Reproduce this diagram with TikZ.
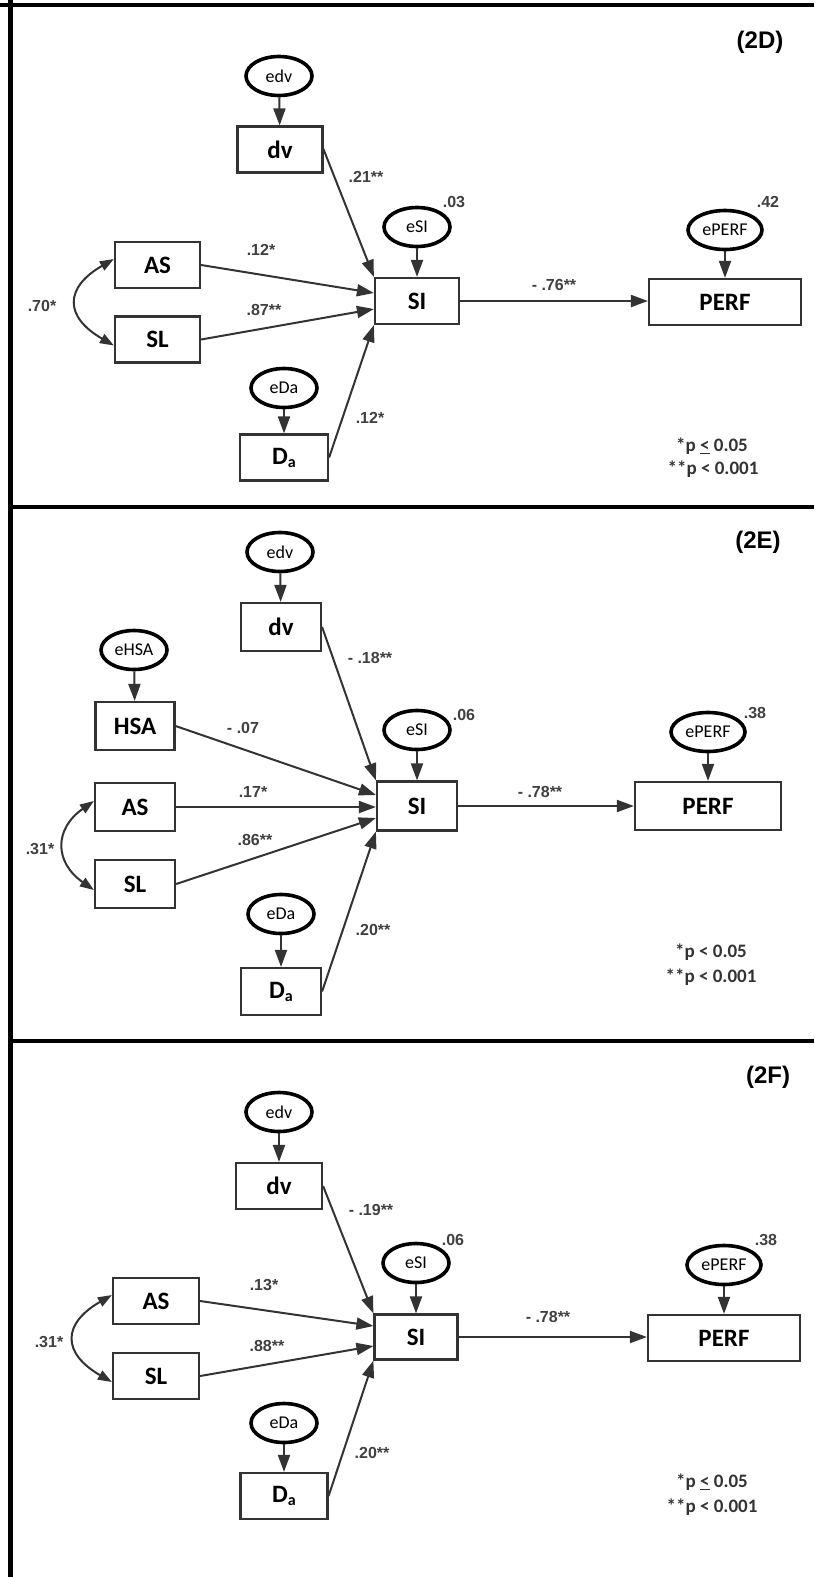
\documentclass[tikz,border=0pt]{standalone}
\usepackage{fontspec}
\setmainfont{Carlito}
\newfontfamily\arialf{Liberation Sans}
\usetikzlibrary{arrows.meta,shapes.geometric}
\begin{document}
\begin{tikzpicture}[x=1pt,y=-1pt,
  box/.style={draw=black!80, line width=2.2pt, fill=white, minimum width=85pt, minimum height=46pt, inner sep=0pt, font=\fontsize{25}{25}\selectfont\bfseries},
  err/.style={draw=black, line width=3.6pt, ellipse, fill=white, minimum width=66pt, minimum height=39pt, inner sep=0pt, font=\fontsize{18}{18}\selectfont},
  arr/.style={draw=black!80, line width=2pt, -{Triangle[length=17pt,width=12pt]}},
  dbl/.style={draw=black!80, line width=2pt, {Triangle[length=14pt,width=10pt]}-{Triangle[length=14pt,width=10pt]}},
  coef/.style={font=\arialf\bfseries\fontsize{16}{16}\selectfont, text=black!75, inner sep=0pt},
  pv/.style={font=\bfseries\fontsize{19}{19}\selectfont, text=black!80, inner sep=0pt},
  ttl/.style={font=\arialf\bfseries\fontsize{24}{24}\selectfont, inner sep=0pt},
  frame/.style={draw=black, line width=5pt}
]
\useasboundingbox (0,0) rectangle (814,1577);
\fill[white] (0,0) rectangle (814,1577);
% frame
\coordinate (fTL) at (0,5);
\coordinate (fTR) at (814,5);
\coordinate (fLT) at (10,0);
\coordinate (fLB) at (10,1577);
\coordinate (fD1L) at (10,507);
\coordinate (fD1R) at (814,507);
\coordinate (fD2L) at (10,1041);
\coordinate (fD2R) at (814,1041);
\draw[frame, line width=4pt] (fTL) -- (fTR);
\draw[frame] (fLT) -- (fLB);
\draw[frame, line width=4pt] (fD1L) -- (fD1R);
\draw[frame, line width=4pt] (fD2L) -- (fD2R);

% ================= Panel 2D =================
\node[ttl] (Dttl) at (760,42) {(2D)};
\node[err] (Dedv) at (279,76) {edv};
\node[box] (Ddv) at (280,149.5) {dv};
\node[err] (DeSI) at (417,227) {eSI};
\node[box, minimum width=84pt] (DSI) at (417,301) {SI};
\node[err, minimum width=74pt] (DePERF) at (725,230) {ePERF};
\node[box, minimum width=152pt] (DPERF) at (725,302) {PERF};
\node[box] (DAS) at (157.5,265) {AS};
\node[box] (DSL) at (157.5,339.5) {SL};
\node[err] (DeDa) at (284,388) {eDa};
\node[box, minimum width=88pt] (DDa) at (284,457.5) {D\raisebox{-3pt}{\fontsize{16}{16}\selectfont a}};

\draw[arr] (Dedv) -- (Ddv);
\draw[arr] (DeSI) -- (DSI);
\draw[arr] (DePERF) -- (DPERF);
\draw[arr] (DeDa) -- (DDa);
\draw[arr] (Ddv.east) -- (DSI.north west);
\draw[arr] (DAS.east) -- ([yshift=8pt]DSI.west);
\draw[arr] (DSL.east) -- ([yshift=-8pt]DSI.west);
\draw[arr] (DDa.east) -- (DSI.south west);
\draw[arr] (DSI.east) -- (DSI.east -| DPERF.west);
\draw[dbl] ([yshift=6pt]DAS.west) to[out=210,in=150,looseness=1.7] ([yshift=-6pt]DSL.west);

\node[coef] (Dc1) at (366,177) {.21**};
\node[coef] (Dc2) at (454,202) {.03};
\node[coef] (Dc3) at (768,202) {.42};
\node[coef] (Dc4) at (261,250) {.12*};
\node[coef] (Dc5) at (554,285) {- .76**};
\node[coef] (Dc6) at (42,306) {.70*};
\node[coef] (Dc7) at (264,310) {.87**};
\node[coef] (Dc8) at (370,418) {.12*};
\node[pv] (Dp1) at (712,446) {*p \underline{<} 0.05};
\node[pv] (Dp2) at (713,469) {**p < 0.001};

% ================= Panel 2E =================
\node[ttl] (Ettl) at (758,542) {(2E)};
\node[err] (Eedv) at (280,552) {edv};
\node[box, minimum width=80pt, minimum height=48pt] (Edv) at (281,627) {dv};
\node[err] (EeHSA) at (134,650) {eHSA};
\node[box, minimum width=79pt, minimum height=48pt] (EHSA) at (135,726) {HSA};
\node[err] (EeSI) at (417,730) {eSI};
\node[box, minimum width=80pt, minimum height=49pt] (ESI) at (417,806) {SI};
\node[err, minimum width=74pt] (EePERF) at (708,732) {ePERF};
\node[box, minimum width=146pt, minimum height=48pt] (EPERF) at (708,806) {PERF};
\node[box, minimum width=80pt, minimum height=48pt] (EAS) at (135,807) {AS};
\node[box, minimum width=80pt, minimum height=48pt] (ESL) at (135,884) {SL};
\node[err] (EeDa) at (281,914) {eDa};
\node[box, minimum width=80pt, minimum height=47pt] (EDa) at (281,991.5) {D\raisebox{-3pt}{\fontsize{16}{16}\selectfont a}};

\draw[arr] (Eedv) -- (Edv);
\draw[arr] (EeHSA) -- (EHSA);
\draw[arr] (EeSI) -- (ESI);
\draw[arr] (EePERF) -- (EPERF);
\draw[arr] (EeDa) -- (EDa);
\draw[arr] (Edv.east) -- (ESI.north west);
\draw[arr] (EHSA.east) -- ([yshift=11pt]ESI.west);
\draw[arr] (EAS.east) -- (EAS.east -| ESI.west);
\draw[arr] (ESL.east) -- ([yshift=-12pt]ESI.west);
\draw[arr] (EDa.east) -- (ESI.south west);
\draw[arr] (ESI.east) -- (ESI.east -| EPERF.west);
\draw[dbl] ([yshift=6pt]EAS.west) to[out=215,in=145,looseness=1.4] ([yshift=-6pt]ESL.west);

\node[coef] (Ec1) at (370,658) {- .18**};
\node[coef] (Ec2) at (464,715) {.06};
\node[coef] (Ec3) at (755,713) {.38};
\node[coef] (Ec4) at (243,728) {- .07};
\node[coef] (Ec5) at (253,792) {.17*};
\node[coef] (Ec6) at (540,792) {- .78**};
\node[coef] (Ec7) at (255,840) {.86**};
\node[coef] (Ec8) at (40,849) {.31*};
\node[coef] (Ec9) at (373,930) {.20**};
\node[pv] (Ep1) at (711,952) {*p < 0.05};
\node[pv] (Ep2) at (711,977) {**p < 0.001};

% ================= Panel 2F =================
\node[ttl] (Fttl) at (768,1077) {(2F)};
\node[err] (Fedv) at (279,1112) {edv};
\node[box, minimum width=86pt] (Fdv) at (279,1186) {dv};
\node[err] (FeSI) at (416,1263) {eSI};
\node[box, minimum width=83pt, minimum height=45pt] (FSI) at (416,1337) {SI};
\node[err, minimum width=74pt] (FePERF) at (724,1265) {ePERF};
\node[box, minimum width=152pt] (FPERF) at (724,1338) {PERF};
\node[box, minimum width=86pt] (FAS) at (156,1301) {AS};
\node[box, minimum width=86pt] (FSL) at (156,1376) {SL};
\node[err] (FeDa) at (284,1423) {eDa};
\node[box, minimum width=87pt] (FDa) at (284,1496) {D\raisebox{-3pt}{\fontsize{16}{16}\selectfont a}};

\draw[arr] (Fedv) -- (Fdv);
\draw[arr] (FeSI) -- (FSI);
\draw[arr] (FePERF) -- (FPERF);
\draw[arr] (FeDa) -- (FDa);
\draw[arr] (Fdv.east) -- (FSI.north west);
\draw[arr] (FAS.east) -- ([yshift=11pt]FSI.west);
\draw[arr] (FSL.east) -- ([yshift=-9pt]FSI.west);
\draw[arr] (FDa.east) -- (FSI.south west);
\draw[arr] (FSI.east) -- (FSI.east -| FPERF.west);
\draw[dbl] ([yshift=6pt]FAS.west) to[out=210,in=150,looseness=1.7] ([yshift=-6pt]FSL.west);

\node[coef] (Fc1) at (371,1210) {- .19**};
\node[coef] (Fc2) at (453,1240) {.06};
\node[coef] (Fc3) at (766,1240) {.38};
\node[coef] (Fc4) at (264,1285) {.13*};
\node[coef] (Fc5) at (548,1317) {- .78**};
\node[coef] (Fc6) at (49,1342) {.31*};
\node[coef] (Fc7) at (267,1346) {.88**};
\node[coef] (Fc8) at (372,1453) {.20**};
\node[pv] (Fp1) at (712,1482) {*p \underline{<} 0.05};
\node[pv] (Fp2) at (712,1507) {**p < 0.001};
\end{tikzpicture}
\end{document}
